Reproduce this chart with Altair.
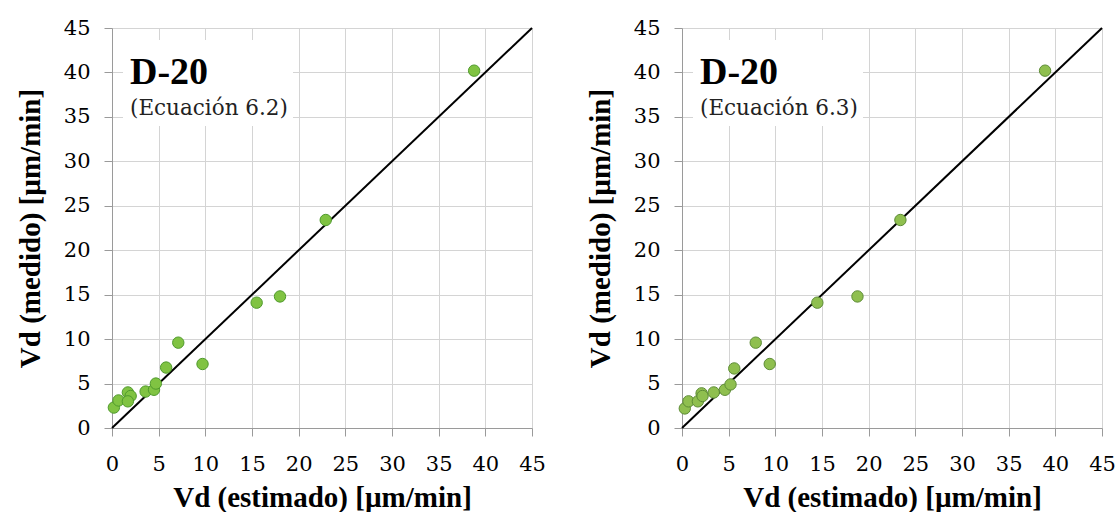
import altair as alt
import pandas as pd

# Ecuación 6.2 (left panel)
est_62 = [0.2, 0.7, 1.7, 2.0, 1.7, 3.6, 4.5, 4.7, 5.8, 7.1, 9.7, 15.5, 18.0, 22.9, 38.8]
med_62 = [2.3, 3.1, 4.0, 3.6, 3.0, 4.1, 4.3, 5.0, 6.8, 9.6, 7.2, 14.1, 14.8, 23.4, 40.2]

# Ecuación 6.3 (right panel)
est_63 = [0.3, 0.7, 1.7, 2.1, 2.2, 3.4, 4.6, 5.2, 5.6, 7.9, 9.4, 14.5, 18.8, 23.4, 38.9]
med_63 = [2.2, 3.0, 3.0, 3.9, 3.6, 4.0, 4.3, 4.9, 6.7, 9.6, 7.2, 14.1, 14.8, 23.4, 40.2]

# 1:1 line
line_x = [0, 45]
line_y = [0, 45]

ticks = [0, 5, 10, 15, 20, 25, 30, 35, 40, 45]
x_title = "Vd (estimado) [µm/min]"
y_title = "Vd (medido) [µm/min]"
panel_label = "D-20"
eq_labels = ["(Ecuación 6.2)", "(Ecuación 6.3)"]

FONT_B = "Liberation Serif"
FONT_R = "DejaVu Serif"


def panel(est, med, eq_label, fill, stroke):
    df = pd.DataFrame({"est": est, "med": med})
    line_df = pd.DataFrame({"est": line_x, "med": line_y})
    xs = alt.X("est:Q", scale=alt.Scale(domain=[0, 45], nice=False),
               axis=alt.Axis(values=ticks, title=x_title))
    ys = alt.Y("med:Q", scale=alt.Scale(domain=[0, 45], nice=False),
               axis=alt.Axis(values=ticks, title=y_title))

    box = alt.Chart(pd.DataFrame({"k": [0]})).mark_rect(color="white").encode(
        x=alt.value(11), x2=alt.value(181), y=alt.value(12), y2=alt.value(98)
    )
    line = alt.Chart(line_df).mark_line(color="black", strokeWidth=2).encode(x=xs, y=ys)
    pts = alt.Chart(df).mark_circle(
        size=130, opacity=1, fill=fill, stroke=stroke, strokeWidth=1
    ).encode(x=xs, y=ys)
    t1 = alt.Chart(pd.DataFrame({"t": [panel_label]})).mark_text(
        align="left", baseline="alphabetic", font=FONT_B, fontSize=38,
        fontWeight="bold", color="black"
    ).encode(x=alt.value(18), y=alt.value(56), text="t:N")
    t2 = alt.Chart(pd.DataFrame({"t": [eq_label]})).mark_text(
        align="left", baseline="alphabetic", font=FONT_R, fontSize=21.5,
        color="#222222"
    ).encode(x=alt.value(18), y=alt.value(87), text="t:N")
    return alt.layer(box, line, pts, t1, t2).properties(width=420, height=400)


left = panel(est_62, med_62, eq_labels[0], "#80c342", "#4f9a2c")
right = panel(est_63, med_63, eq_labels[1], "#8fbf4f", "#5d8c36")

chart = alt.hconcat(left, right).properties(
    padding={"left": 16, "top": 17, "right": 0, "bottom": 0}
).configure_axis(
    labelFont=FONT_R, labelFontSize=21, labelColor="black",
    titleFont=FONT_B, titleFontSize=29, titleFontWeight="bold", titleColor="black",
    domainColor="#9a9a9a", tickColor="#9a9a9a", gridColor="#d4d4d4",
    tickSize=8, labelPadding=14, labelFlush=False, labelOverlap=False
).configure_axisY(titlePadding=18).configure_axisX(
    titlePadding=9, labelPadding=17
).configure_view(stroke=None).configure_concat(spacing=40)

chart.save("out.html", embed_options={"renderer": "svg", "actions": False})
